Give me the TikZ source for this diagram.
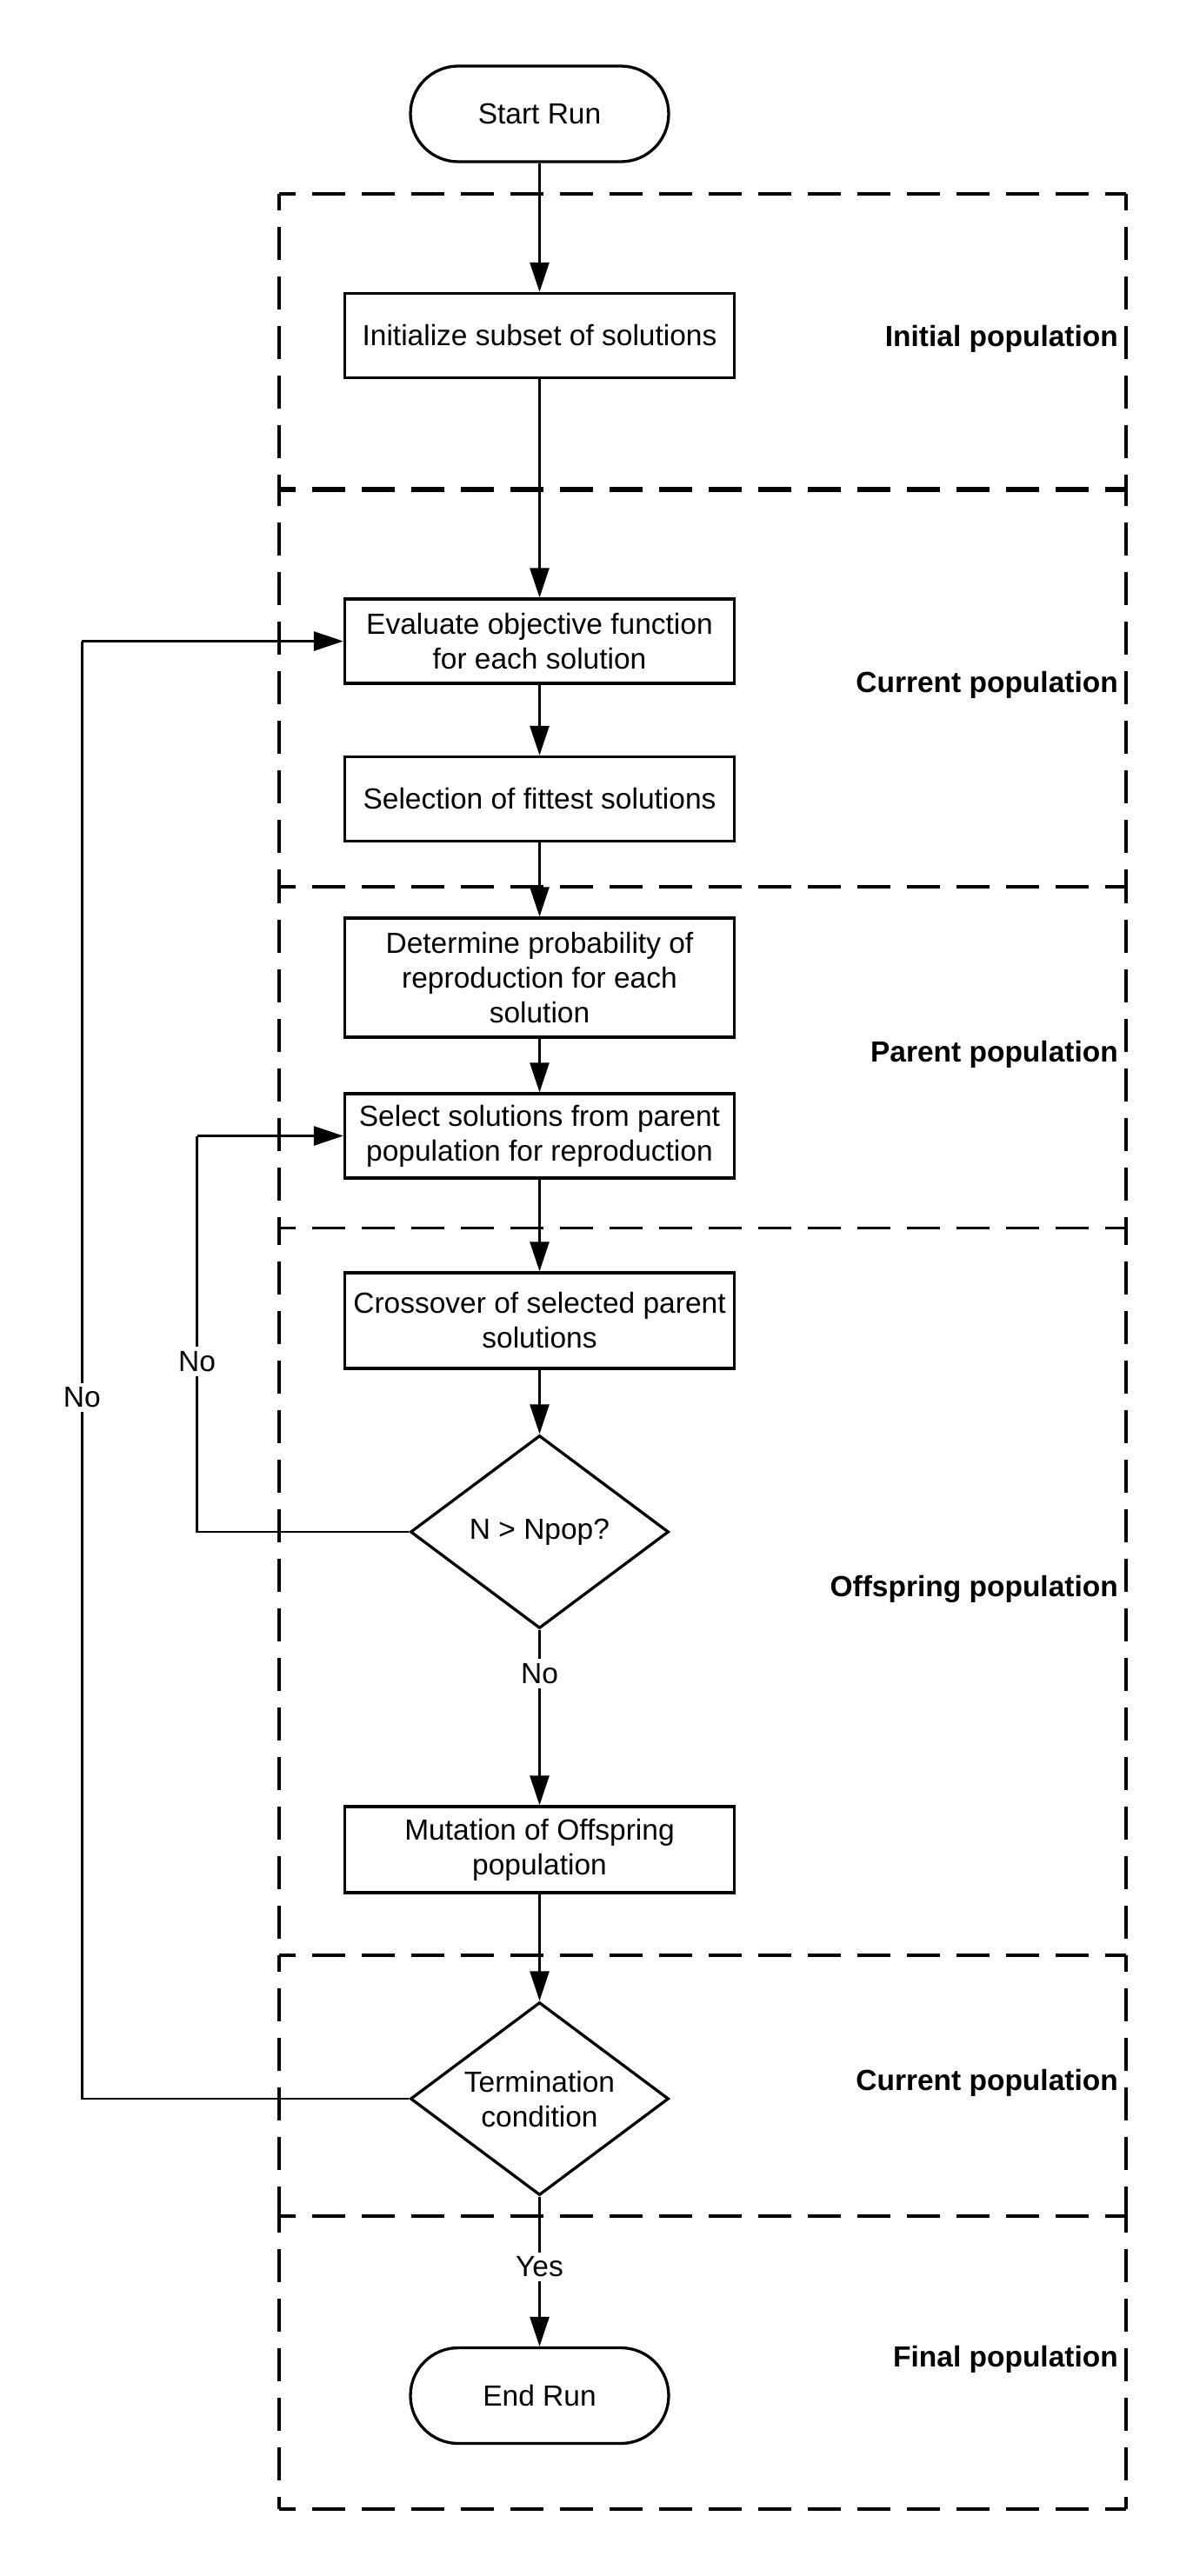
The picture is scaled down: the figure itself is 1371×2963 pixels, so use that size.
\documentclass[tikz,border=0pt]{standalone}
\usepackage{fontspec}
\setmainfont{Liberation Sans}
\usetikzlibrary{arrows.meta,shapes.geometric}
\begin{document}
\begin{tikzpicture}[x=1pt,y=-1pt,
  txt/.style={font=\fontsize{33.5}{40}\selectfont, align=center, inner sep=0pt},
  procbox/.style={txt, draw, fill=white, line width=3.3pt, minimum width=448pt, minimum height=97pt},
  termbox/.style={txt, draw, fill=white, line width=3.3pt, rounded corners=55pt, minimum width=297pt, minimum height=110pt},
  decide/.style={txt, draw, fill=white, diamond, line width=3.3pt, minimum width=297pt, minimum height=222pt,
                 label={[txt]center:#1}},
  flow/.style={line width=2.7pt, -{Triangle[length=34pt,width=22pt]}},
  plain/.style={line width=2.7pt},
  zone/.style={line width=3.3pt, dash pattern=on 38pt off 19pt, dash phase=19pt},
  zonelabel/.style={txt, font=\fontsize{33.5}{40}\selectfont\bfseries, anchor=east},
  answer/.style={txt, fill=white, inner sep=5pt}
]
\useasboundingbox (0,0) rectangle (1371,2963);

% population zones: dashed frame split into sections
\foreach \top/\bot in {223/563, 563/1020, 1020/1412.5, 1412.5/2249, 2249/2549, 2549/2886} {
  \draw[zone] (321,\top) -- (321,\bot);
  \draw[zone] (1295,\top) -- (1295,\bot);
}
\draw[zone] (321,223) -- (1295,223);
\draw[zone, line width=6pt] (321,563) -- (1295,563);
\foreach \y in {1020, 1412.5, 2249, 2549, 2886} {
  \draw[zone] (321,\y) -- (1295,\y);
}

\node[zonelabel] (lInit) at (1286,390) {Initial population};
\node[zonelabel] (lCur1) at (1286,788) {Current population};
\node[zonelabel] (lPar) at (1286,1213) {Parent population};
\node[zonelabel] (lOff) at (1286,1828) {Offspring population};
\node[zonelabel] (lCur2) at (1286,2396) {Current population};
\node[zonelabel] (lFin) at (1286,2714) {Final population};

% flowchart nodes
\node[termbox] (start) at (620.5,131) {Start Run};
\node[procbox] (init) at (620.5,386) {Initialize subset of solutions};
\node[procbox] (eval) at (620.5,737.5) {Evaluate objective function\\for each solution};
\node[procbox] (sel) at (620.5,919) {Selection of fittest solutions};
\node[procbox, minimum height=137pt] (det) at (620.5,1124.5) {Determine probability of\\reproduction for each\\solution};
\node[procbox] (pick) at (620.5,1306.5) {Select solutions from parent\\population for reproduction};
\node[procbox, minimum height=110pt] (cross) at (620.5,1519) {Crossover of selected parent\\solutions};
\node[decide={N > Npop?}] (dec1) at (620.5,1762) {};
\node[procbox, minimum height=99pt] (mut) at (620.5,2127.5) {Mutation of Offspring\\population};
\node[decide={Termination\\condition}] (dec2) at (620.5,2414) {};
\node[termbox] (stop) at (620.5,2755.5) {End Run};

% main flow
\draw[flow] (start) -- (init);
\draw[flow] (init) -- (eval);
\draw[flow] (eval) -- (sel);
\draw[flow] (sel) -- (det);
\draw[flow] (det) -- (pick);
\draw[flow] (pick) -- (cross);
\draw[flow] (cross) -- (dec1);
\draw[flow] (dec1) -- node[answer, pos=0.25] (no2) {No} (mut);
\draw[flow] (mut) -- (dec2);
\draw[flow] (dec2.south) -- node[answer, pos=0.47] (yes) {Yes} (stop);

% loops back
\coordinate (c1) at (226.5,1762);
\coordinate (c2) at (226.5,1306.5);
\draw[plain] (dec1.west) -- (c1) -- node[answer, pos=0.43] (no1) {No} (c2);
\draw[flow] (c2) -- (pick.west);

\coordinate (d1) at (94.4,2414);
\coordinate (d2) at (94.4,737.5);
\draw[plain] (dec2.west) -- (d1) -- node[answer, pos=0.481] (no3) {No} (d2);
\draw[flow] (d2) -- (eval.west);
\end{tikzpicture}
\end{document}
